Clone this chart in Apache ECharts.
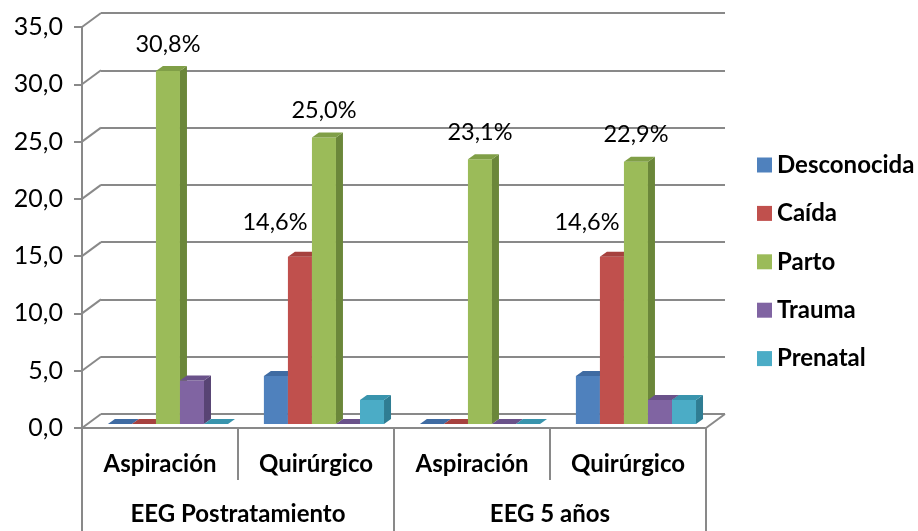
<!DOCTYPE html>
<html>
<head>
<meta charset="utf-8">
<script src="https://cdn.jsdelivr.net/npm/echarts@6/dist/echarts.min.js"></script>
<style>
  html, body { margin: 0; padding: 0; background: #ffffff; }
  #chart { width: 918px; height: 531px; }
</style>
</head>
<body>
<div id="chart"></div>
<script>
// Categories (inner row and outer group row)
const subCategories = ['Aspiración', 'Quirúrgico', 'Aspiración', 'Quirúrgico'];
const groupCategories = ['EEG Postratamiento', 'EEG 5 años'];

// Series names and values (%)
const seriesNames = ['Desconocida', 'Caída', 'Parto', 'Trauma', 'Prenatal'];
const desconocida = [0, 4.2, 0, 4.2];
const caida = [0, 14.6, 0, 14.6];
const parto = [30.8, 25.0, 23.1, 22.9];
const trauma = [3.8, 0, 0, 2.1];
const prenatal = [0, 2.1, 0, 2.1];

// Value axis ticks
const yTicks = [0, 5, 10, 15, 20, 25, 30, 35];

// Which series carry value labels
const labelledSeries = ['Caída', 'Parto'];

const seriesValues = [desconocida, caida, parto, trauma, prenatal];

// Face colours: front, top, right side
const frontColors = ['#4F81BD', '#C0504D', '#9BBB59', '#8064A2', '#4BACC6'];
const topColors   = ['#3F6BA2', '#A6413E', '#809F47', '#6A528A', '#3994AD'];
const sideColors  = ['#375D8B', '#8C3634', '#6B873A', '#584474', '#2F7D93'];

const GRAY = '#898989';
const FONT = 'Lato';
// Wall depth (back wall offset) and bar depth
const WALL_DX = 19, WALL_DY = -14;
const BAR_DX = 7, BAR_DY = -5;
const BAR_SHIFT_Y = -4;

function fmtPct(v) { return v.toFixed(1).replace('.', ',') + '%'; }
function fmtAxis(v) { return v.toFixed(1).replace('.', ','); }

function barRenderer(k) {
  const name = seriesNames[k];
  const hasLabel = labelledSeries.indexOf(name) >= 0;
  const labelDX = name === 'Caída' ? -25 : 0;
  const labelDY = name === 'Caída' ? -34 : -27;
  return function (params, api) {
    const cat = api.value(0);
    const val = api.value(1);
    const p0 = api.coord([cat, 0]);
    const p1 = api.coord([cat, val]);
    const band = api.size([1, 0])[0];
    const w = band * 0.154;
    const x = p0[0] + band * 0.051 - 2.5 * w + k * w;
    const by = p0[1] + BAR_SHIFT_Y;
    const ty = p1[1] + BAR_SHIFT_Y;
    const children = [
      { type: 'rect', shape: { x: x, y: ty, width: w, height: by - ty },
        style: { fill: frontColors[k] } },
      { type: 'polygon', shape: { points: [[x + w, ty], [x + w + BAR_DX, ty + BAR_DY], [x + w + BAR_DX, by + BAR_DY], [x + w, by]] },
        style: { fill: sideColors[k] } },
      { type: 'polygon', shape: { points: [[x, ty], [x + w, ty], [x + w + BAR_DX, ty + BAR_DY], [x + BAR_DX, ty + BAR_DY]] },
        style: { fill: topColors[k] } }
    ];
    if (hasLabel && val > 0) {
      children.push({
        type: 'text',
        style: {
          text: fmtPct(val),
          x: x + w / 2 + labelDX,
          y: ty + labelDY,
          textAlign: 'center',
          textVerticalAlign: 'middle',
          fontFamily: FONT,
          fontSize: 23.5,
          fill: '#000000'
        }
      });
    }
    return { type: 'group', children: children };
  };
}

// Side edges of the 3D box: a short diagonal at every value tick, plus the floor's right edge
function wallEdgeRenderer(params, api) {
  const cs = params.coordSys;
  const v = api.value(1);
  const y = api.coord([0, v])[1];
  const children = [
    { type: 'line', shape: { x1: cs.x, y1: y, x2: cs.x + WALL_DX, y2: y + WALL_DY },
      style: { stroke: GRAY, lineWidth: 2 } }
  ];
  if (v === 0) {
    children.push({ type: 'line',
      shape: { x1: cs.x + cs.width, y1: y, x2: cs.x + cs.width + WALL_DX, y2: y + WALL_DY },
      style: { stroke: GRAY, lineWidth: 2 } });
  }
  return { type: 'group', children: children };
}

const barSeries = seriesNames.map(function (name, k) {
  return {
    name: name,
    type: 'custom',
    xAxisIndex: 0,
    yAxisIndex: 0,
    clip: false,
    z: 3,
    itemStyle: { color: frontColors[k] },
    renderItem: barRenderer(k),
    encode: { x: 0, y: 1 },
    data: seriesValues[k].map(function (v, i) { return [i, v]; })
  };
});

const chart = echarts.init(document.getElementById('chart'), null, { renderer: 'canvas' });

chart.setOption({
  animation: false,
  backgroundColor: '#ffffff',
  grid: [
    { left: 82, top: 27, width: 624, height: 401 },
    { left: 82 + WALL_DX, top: 27 + WALL_DY, width: 624, height: 401 }
  ],
  legend: {
    orient: 'vertical',
    left: 752,
    top: 148,
    padding: 5,
    itemWidth: 15,
    itemHeight: 15,
    itemGap: 24.4,
    icon: 'rect',
    data: seriesNames,
    textStyle: { fontFamily: FONT, fontWeight: 'bold', fontSize: 24, color: '#000000' }
  },
  xAxis: [
    {
      type: 'category', gridIndex: 0, data: subCategories, position: 'bottom',
      axisLine: { show: true, lineStyle: { color: GRAY, width: 2 } },
      axisTick: { show: true, interval: 0, length: 52, lineStyle: { color: GRAY, width: 2 } },
      axisLabel: { interval: 0, margin: 24, fontFamily: FONT, fontWeight: 'bold', fontSize: 24, color: '#000000' }
    },
    {
      type: 'category', gridIndex: 0, data: groupCategories, position: 'bottom',
      axisLine: { show: false },
      axisTick: { show: true, interval: 0, length: 103, lineStyle: { color: GRAY, width: 2 } },
      axisLabel: { interval: 0, margin: 74, fontFamily: FONT, fontWeight: 'bold', fontSize: 24, color: '#000000' }
    },
    { type: 'value', gridIndex: 1, show: false }
  ],
  yAxis: [
    {
      type: 'value', gridIndex: 0, min: 0, max: 35, interval: 5,
      axisLine: { show: true, lineStyle: { color: GRAY, width: 2 } },
      axisTick: { show: true, length: 8, lineStyle: { color: GRAY, width: 2 } },
      axisLabel: { margin: 19, formatter: fmtAxis, fontFamily: FONT, fontSize: 25, color: '#000000' },
      splitLine: { show: false }
    },
    {
      type: 'value', gridIndex: 1, min: 0, max: 35, interval: 5,
      axisLine: { show: false }, axisTick: { show: false }, axisLabel: { show: false },
      splitLine: { show: true, lineStyle: { color: GRAY, width: 2 } }
    }
  ],
  series: barSeries.concat([
    {
      name: 'wallEdges',
      type: 'custom',
      xAxisIndex: 0,
      yAxisIndex: 0,
      clip: false,
      silent: true,
      z: 1,
      renderItem: wallEdgeRenderer,
      encode: { x: 0, y: 1 },
      data: yTicks.map(function (v) { return [0, v]; })
    }
  ])
});
</script>
</body>
</html>
